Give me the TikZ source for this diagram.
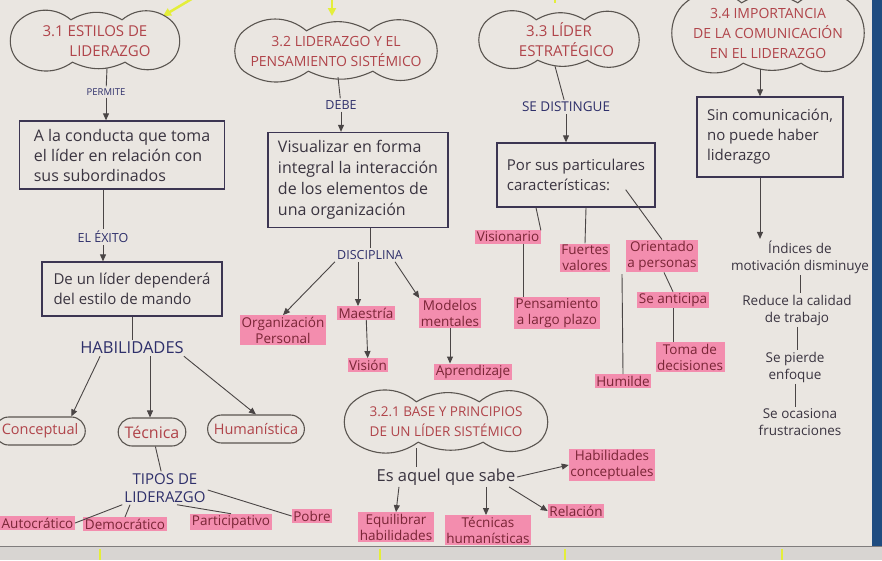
\documentclass[tikz,border=0pt]{standalone}
\usepackage{fontspec}
\setmainfont{Open Sans}
\usetikzlibrary{shapes.misc,arrows.meta,calc}
\definecolor{paper}{HTML}{EAE6E1}
\definecolor{band}{HTML}{D8D5D2}
\definecolor{edgeblue}{HTML}{1F4C80}
\definecolor{headred}{HTML}{B0444A}
\definecolor{cloudline}{HTML}{5A5550}
\definecolor{boxline}{HTML}{3C3552}
\definecolor{ink}{HTML}{3A3440}
\definecolor{navy}{HTML}{2E2F6A}
\definecolor{pinkhl}{HTML}{F38DAE}
\definecolor{pinktext}{HTML}{7A2536}
\definecolor{lineclr}{HTML}{4A4545}
\definecolor{hlyellow}{HTML}{E4EE3A}
\tikzset{
  cloudbox/.style={rectangle, text=headred, font=\fontsize{14.5}{20}\selectfont, align=center, inner sep=0pt},
  cloudline/.style={draw=cloudline, line width=1.1pt},
  textbox/.style={draw=boxline, line width=1.3pt, text=ink, font=\fontsize{16}{20}\selectfont, align=left, inner sep=3pt, anchor=center},
  pinkbox/.style={fill=pinkhl, text=pinktext, font=\fontsize{13.5}{16}\selectfont, align=center, inner sep=1.5pt},
  roundbox/.style={rounded rectangle, draw=cloudline, line width=1.1pt, text=headred, font=\fontsize{14.5}{16}\selectfont, inner xsep=5pt, minimum height=28pt},
  lbl/.style={text=navy, font=\fontsize{12.5}{14}\selectfont, inner sep=2pt},
  biglbl/.style={text=navy, font=\fontsize{16.5}{19}\selectfont, inner sep=2pt, align=center},
  plain/.style={text=ink, font=\fontsize{13.5}{17}\selectfont, align=center, inner sep=1.5pt},
  arr/.style={draw=lineclr, line width=0.9pt, -{Triangle[length=7pt,width=6pt]}},
  ln/.style={draw=lineclr, line width=0.9pt},
  yarr/.style={draw=hlyellow, line width=2.5pt, -{Triangle[length=8pt,width=8pt]}},
}
\newcommand{\cloudof}[1]{%
\draw[cloudline]
 (#1.north west) to[bend left=40] ($(#1.north west)!0.34!(#1.north east)$)
 to[bend left=30] ($(#1.north west)!0.68!(#1.north east)$)
 to[bend left=40] (#1.north east)
 to[bend left=50] (#1.south east)
 to[bend left=35] ($(#1.south east)!0.3!(#1.south west)$)
 to[bend left=25] ($(#1.south east)!0.65!(#1.south west)$)
 to[bend left=35] (#1.south west)
 to[bend left=50] (#1.north west);}
\begin{document}
\begin{tikzpicture}[x=1pt,y=-1pt]
\useasboundingbox (0,0) rectangle (882,560);
% paper
\fill[paper] (0,0) rectangle (882,560);
\fill[band] (0,546) rectangle (882,560);
\draw[lineclr!70, line width=1pt] (0,546) -- (882,546);
\fill[edgeblue] (872,0) rectangle (882,546);
% yellow marks
\coordinate (y1a) at (195,-3); \coordinate (y1b) at (163,16);
\draw[yarr] (y1a) -- (y1b);
\coordinate (y2a) at (332,-3); \coordinate (y2b) at (332,16);
\draw[yarr] (y2a) -- (y2b);
\coordinate (y3a) at (555,-3); \coordinate (y3b) at (555,3);
\draw[draw=hlyellow, line width=2.5pt] (y3a) -- (y3b);
\foreach \xx in {100,380,565,782}{\draw[hlyellow, line width=2pt] (\xx,549) -- (\xx,560);}

% ---------- column 1 ----------
\node[cloudbox, font=\fontsize{15}{20}\selectfont, minimum width=150pt, minimum height=42pt] (c1) at (95,41) {3.1 ESTILOS DE\\ \qquad LIDERAZGO};
\cloudof{c1}
\node[lbl, font=\fontsize{9.5}{12}\selectfont] (permite) at (106,92) {PERMITE};
\node[textbox, minimum width=205pt, minimum height=68pt] (b1) at (122,155) {A la conducta que toma\\el líder en relación con\\sus subordinados};
\node[lbl] (exito) at (103,237) {EL ÉXITO};
\node[textbox, font=\fontsize{15}{20}\selectfont, minimum width=180pt, minimum height=54pt] (b2) at (132,289) {De un líder dependerá\\del estilo de mando};
\node[biglbl] (hab) at (132,348) {HABILIDADES};
\node[roundbox] (concep) at (40,431) {Conceptual};
\node[roundbox, font=\fontsize{16}{18}\selectfont] (tecn) at (152,432) {Técnica};
\node[roundbox] (human) at (256,429) {Humanística};
\node[biglbl, font=\fontsize{15}{18}\selectfont] (tipos) at (165,488) {TIPOS DE\\LIDERAZGO};
\node[pinkbox, anchor=west] (auto) at (0,523) {Autocrático};
\node[pinkbox] (demo) at (125,524) {Democrático};
\node[pinkbox] (parti) at (231,522) {Participativo};
\node[pinkbox] (pobre) at (312,516) {Pobre};

\path (c1.south) ++(12,6) coordinate (c1s);
\draw[ln] (c1s) -- (permite);
\draw[arr] (permite) -- (b1.north -| permite);
\draw[ln] (b1.south -| exito) -- (exito);
\draw[arr] (exito) -- (b2.north -| exito);
\draw[ln] (b2.south -| hab) -- (hab);
\path (hab.south west) ++(22,0) coordinate (h1);
\draw[arr] (h1) -- (concep.north east);
\path (hab.south) ++(18,0) coordinate (h2);
\draw[arr] (h2) -- (h2 |- tecn.north);
\path (hab.south east) ++(-2,0) coordinate (h3);
\draw[arr] (h3) -- (human.north);
\draw[ln] (tecn) -- (tipos);
\draw[ln] (tipos.south west) -- (auto.east);
\path (tipos.south) ++(-35,0) coordinate (t2);
\draw[ln] (t2) -- (demo.north);
\path (tipos.south) ++(12,0) coordinate (t3);
\draw[ln] (t3) -- (parti.north);
\path (tipos.east) ++(0,2) coordinate (t4);
\draw[ln] (t4) -- (pobre.west);

% ---------- column 2 ----------
\node[cloudbox, font=\fontsize{14}{20}\selectfont, minimum width=184pt, minimum height=40pt] (c2) at (336,51) {3.2 LIDERAZGO Y EL\\PENSAMIENTO SISTÉMICO};
\cloudof{c2}
\node[lbl] (debe) at (341,105) {DEBE};
\node[textbox, font=\fontsize{16}{21}\selectfont, minimum width=180pt, minimum height=95pt] (b3) at (358,180) {Visualizar en forma\\integral la interacción\\de los elementos de\\una organización};
\node[lbl] (disc) at (370,255) {DISCIPLINA};
\node[pinkbox] (orgp) at (283,330) {Organización\\Personal};
\node[pinkbox] (maes) at (366,313) {Maestría};
\node[pinkbox] (model) at (450,313) {Modelos\\mentales};
\node[pinkbox] (vision) at (368,365) {Visión};
\node[pinkbox] (aprend) at (473,372) {Aprendizaje};
\node[cloudbox, font=\fontsize{13.5}{20}\selectfont, minimum width=185pt, minimum height=40pt] (c21) at (446,422) {3.2.1 BASE Y PRINCIPIOS\\DE UN LÍDER SISTÉMICO};
\cloudof{c21}
\node[plain, font=\fontsize{16.5}{18}\selectfont] (esaq) at (446,477) {Es aquel que sabe};
\node[pinkbox] (habc) at (612,465) {Habilidades\\conceptuales};
\node[pinkbox] (equi) at (396,527) {Equilibrar\\habilidades};
\node[pinkbox] (tecs) at (488,530) {Técnicas\\humanísticas};
\node[pinkbox] (rela) at (576,511) {Relación};

\path (c2.south) ++(2,6) coordinate (c2s);
\draw[ln] (c2s) -- (debe);
\draw[arr] (debe) -- (b3.north -| debe);
\draw[ln] (b3.south -| disc) -- (disc);
\draw[arr] (disc.south west) -- (orgp.north);
\path (disc.south) ++(-12,0) coordinate (d2);
\draw[arr] (d2) -- (d2 |- maes.north);
\path (disc.south east) ++(-10,0) coordinate (d3);
\draw[arr] (d3) -- (model.north west);
\draw[arr] (maes) -- (vision);
\draw[arr] (model) -- (aprend.north -| model);
\path (c21.south) ++(-30,6) coordinate (c21s);
\draw[ln] (c21s) -- (c21s |- esaq.north);
\draw[arr] (esaq.east) -- (habc.west);
\path (esaq.south west) ++(24,0) coordinate (e1);
\draw[arr] (e1) -- (equi.north);
\path (esaq.south) ++(40,0) coordinate (e2);
\draw[arr] (e2) -- (e2 |- tecs.north);
\path (esaq.south east) ++(-8,0) coordinate (e3);
\draw[arr] (e3) -- (rela.west);

% ---------- column 3 ----------
\node[cloudbox, font=\fontsize{15}{20}\selectfont, minimum width=142pt, minimum height=40pt] (c3) at (559,40) {3.3 LÍDER\\ \quad ESTRATÉGICO};
\cloudof{c3}
\node[lbl, font=\fontsize{13.5}{15}\selectfont] (dist) at (566,107) {SE DISTINGUE};
\node[textbox, font=\fontsize{15}{20}\selectfont, minimum width=158pt, minimum height=64pt] (b4) at (576,175) {Por sus particulares\\características:};
\node[pinkbox] (visio) at (508,237) {Visionario};
\node[pinkbox] (fuert) at (585,258) {Fuertes\\valores};
\node[pinkbox] (orien) at (662,256) {Orientado\\a personas};
\node[pinkbox] (pens) at (557,313) {Pensamiento\\a largo plazo};
\node[pinkbox] (humil) at (623,381) {Humilde};
\node[pinkbox] (antic) at (673,300) {Se anticipa};
\node[pinkbox] (toma) at (690,357) {Toma de\\decisiones};

\path (c3.south) ++(-4,6) coordinate (c3s);
\draw[ln] (c3s) -- (dist);
\draw[arr] (dist) -- (b4.north -| dist);
\path (b4.south) ++(-40,0) coordinate (b4a);
\draw[ln] (b4a) -- (visio.north east);
\path (b4.south) ++(10,0) coordinate (b4b);
\draw[ln] (b4b) -- (fuert.north);
\path (b4.south east) ++(-30,-18) coordinate (b4c);
\draw[ln] (b4c) -- (orien.north);
\path (visio.south) ++(15,0) coordinate (v1);
\draw[ln] (v1) -- (v1 |- pens.north);
\coordinate (hu1) at (622,274);
\draw[ln] (hu1) -- (humil.north);
\path (orien.south) ++(2,0) coordinate (o1);
\draw[ln] (o1) -- (antic.north);
\draw[ln] (antic.south) -- (toma.north -| antic);

% ---------- column 4 ----------
\node[cloudbox, font=\fontsize{14}{20}\selectfont, minimum width=165pt, minimum height=60pt] (c4) at (768,33) {3.4 IMPORTANCIA\\DE LA COMUNICACIÓN\\EN EL LIDERAZGO};
\cloudof{c4}
\node[textbox, font=\fontsize{15}{20}\selectfont, minimum width=146pt, minimum height=80pt] (b5) at (770,137) {Sin comunicación,\\no puede haber\\liderazgo};
\node[plain] (indi) at (800,257) {Índices de\\motivación disminuye};
\node[plain] (redu) at (797,310) {Reduce la calidad\\de trabajo};
\node[plain] (pier) at (795,367) {Se pierde\\enfoque};
\node[plain] (ocas) at (800,422) {Se ocasiona\\frustraciones};

\path (c4.south) ++(-8,6) coordinate (c4s);
\draw[arr] (c4s) -- (c4s |- b5.north);
\draw[arr] (b5.south -| c4s) -- (c4s |- indi.north);
\draw[ln] (indi.south) -- (redu.north -| indi.south);
\draw[ln] (redu.south) -- (pier.north -| redu.south);
\draw[ln] (pier.south) -- (ocas.north -| pier.south);
\end{tikzpicture}
\end{document}
